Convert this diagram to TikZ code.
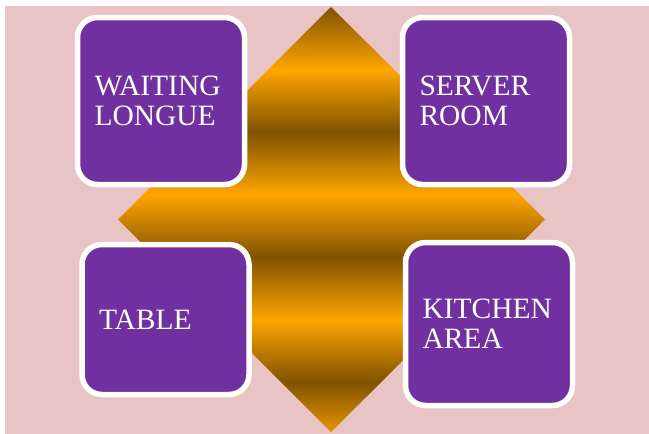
\documentclass[tikz,border=0pt]{standalone}
\usepackage{fontspec}
\setmainfont{Liberation Serif}
\usetikzlibrary{positioning}

\definecolor{roompurple}{RGB}{112,48,160}
\definecolor{wallpink}{RGB}{233,196,196}
\definecolor{goldlight}{RGB}{255,165,0}
\definecolor{golddark}{RGB}{128,82,0}
\pgfdeclareverticalshading{goldbands}{100bp}{color(0bp)=(goldlight); color(23.5bp)=(goldlight); color(30.9bp)=(golddark); color(38.2bp)=(goldlight); color(45.6bp)=(golddark); color(52.9bp)=(goldlight); color(60.3bp)=(golddark); color(67.6bp)=(goldlight); color(75bp)=(golddark); color(100bp)=(golddark)}

\begin{document}
\begin{tikzpicture}[x=1pt,y=-1pt,
  room/.style={draw=white,line width=5.5pt,fill=roompurple,rounded corners=20pt,inner xsep=17pt,text width=133pt,align=left,text=white,font=\fontsize{29.5}{30}\selectfont}]
  % wall
  \fill[white] (0,0) rectangle (649,434);
  \fill[wallpink] (5,6) rectangle (649,434);
  % gold diamond behind the rooms
  \coordinate (top) at (331,7);
  \coordinate (right) at (545,219.5);
  \coordinate (bottom) at (331,432);
  \coordinate (left) at (118,219.5);
  \shade[shading=goldbands] (top) -- (right) -- (bottom) -- (left) -- cycle;
  % rooms
  \node[room,minimum height=167pt] (waiting) at (161,101) {WAITING\\LONGUE};
  \node[room,minimum height=167pt] (server) at (486,101) {SERVER\\ROOM};
  \node[room,minimum height=150pt] (table) at (165.5,319.5) {TABLE};
  \node[room,minimum height=163pt] (kitchen) at (489,324) {KITCHEN\\AREA};
\end{tikzpicture}
\end{document}
